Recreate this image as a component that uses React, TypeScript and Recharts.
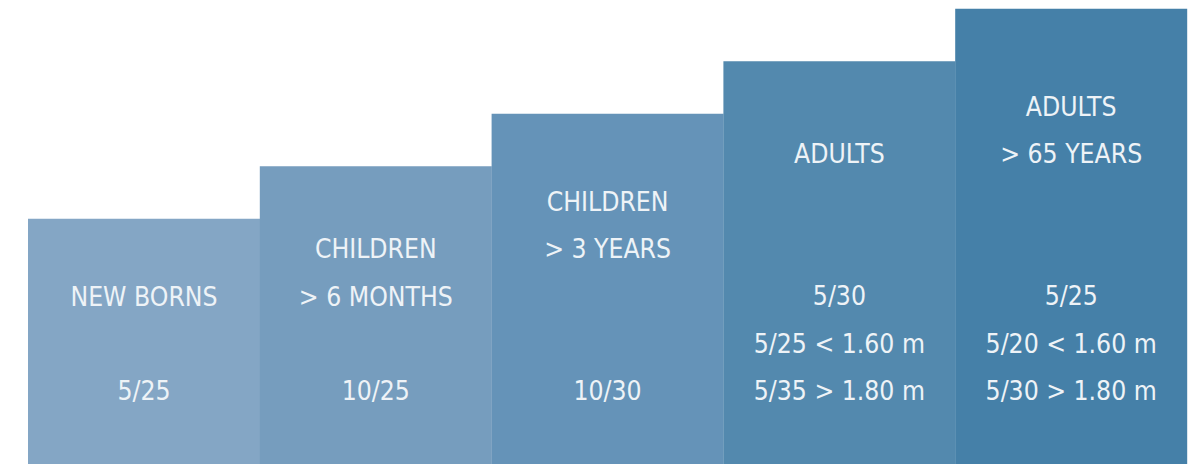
import React from "react"
import { BarChart, Bar, XAxis, YAxis, Cell, LabelList } from "recharts"

// step levels of each group (no axis shown, relative heights)
const groups = ["newborns", "children6m", "children3y", "adults", "adults65"]
const levels = [14, 17, 20, 23, 26]
const titles = [
  ["NEW BORNS"],
  ["CHILDREN", "> 6 MONTHS"],
  ["CHILDREN", "> 3 YEARS"],
  ["ADULTS"],
  ["ADULTS", "> 65 YEARS"],
]
const doses = [
  ["5/25"],
  ["10/25"],
  ["10/30"],
  ["5/30", "5/25 < 1.60 m", "5/35 > 1.80 m"],
  ["5/25", "5/20 < 1.60 m", "5/30 > 1.80 m"],
]
const colors = ["#84a6c5", "#769dbe", "#6593b8", "#5389ae", "#4580a8"]

const data = groups.map((g, i) => ({ group: g, level: levels[i] }))

const FONT = "'Liberation Sans Narrow', 'DejaVu Sans Condensed', sans-serif"
const LINE = 47.3

const GroupLabel = (props: any) => {
  const { x, y, width, height, index } = props
  const cx = x + width / 2
  const bottom = y + height
  const t = titles[index] || []
  const d = doses[index] || []
  const titleTop = y + 78 + 5 * index
  const lastDose = bottom - 73
  return (
    <g>
      {t.map((line, k) => (
        <text
          key={"t" + k}
          x={cx}
          y={titleTop + k * LINE}
          textAnchor="middle"
          dominantBaseline="central"
          fill="#eef3f7"
          fontSize={26.3}
          fontFamily={FONT}
        >
          {line}
        </text>
      ))}
      {d.map((line, k) => (
        <text
          key={"d" + k}
          x={cx}
          y={lastDose - (d.length - 1 - k) * LINE}
          textAnchor="middle"
          dominantBaseline="central"
          fill="#eef3f7"
          fontSize={26.3}
          fontFamily={FONT}
        >
          {line}
        </text>
      ))}
    </g>
  )
}

export default function App() {
  return (
    <div style={{ position: "absolute", left: 0, top: 0, width: 1198, height: 464, background: "#fff" }}>
      <BarChart
        width={1198}
        height={464}
        data={data}
        margin={{ top: 0, right: 11, left: 28, bottom: 0 }}
        barCategoryGap={0}
        barGap={0}
      >
        <XAxis dataKey="group" hide />
        <YAxis hide domain={[0, 26.5]} />
        <Bar dataKey="level" isAnimationActive={false}>
          {data.map((_, i) => (
            <Cell key={i} fill={colors[i]} />
          ))}
          <LabelList dataKey="level" content={<GroupLabel />} />
        </Bar>
      </BarChart>
    </div>
  )
}
